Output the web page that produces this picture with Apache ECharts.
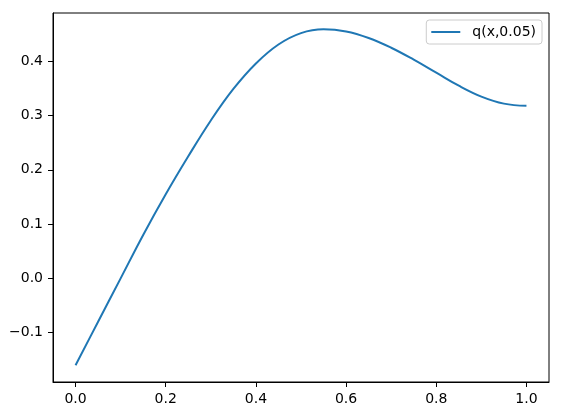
<!DOCTYPE html>
<html>
<head>
<meta charset="utf-8">
<script src="https://cdn.jsdelivr.net/npm/echarts@6/dist/echarts.min.js"></script>
<style>
  html, body { margin: 0; padding: 0; background: #fff; }
  #chart { width: 562px; height: 416px; }
</style>
</head>
<body>
<div id="chart"></div>
<script>
// values
const xValues = [0, 0.05, 0.1, 0.15, 0.2, 0.25, 0.3, 0.35, 0.4, 0.45, 0.5,
  0.55, 0.6, 0.65, 0.7, 0.75, 0.8, 0.85, 0.9, 0.95, 1.0];
const qValues = [-0.160, -0.080, 0.000, 0.080, 0.155, 0.225, 0.291, 0.349, 0.396, 0.431, 0.452,
  0.459, 0.455, 0.443, 0.425, 0.403, 0.379, 0.355, 0.335, 0.322, 0.318];
const xTicks = [0, 0.2, 0.4, 0.6, 0.8, 1.0];
const yTicks = [-0.1, 0, 0.1, 0.2, 0.3, 0.4];
const seriesName = 'q(x,0.05)';

const chart = echarts.init(document.getElementById('chart'), null, { renderer: 'canvas' });

const font = 'DejaVu Sans';

const option = {
  animation: false,
  backgroundColor: '#fff',
  textStyle: { fontFamily: font },
  grid: {
    left: 53, top: 13, right: 13, bottom: 34,
    show: true,
    borderColor: '#000',
    borderWidth: 1
  },
  legend: {
    right: 20,
    top: 20,
    padding: [5, 6, 5, 5],
    borderColor: '#cccccc',
    borderWidth: 1,
    borderRadius: 3,
    backgroundColor: 'rgba(255,255,255,0.8)',
    icon: 'rect',
    itemWidth: 29,
    itemHeight: 2,
    textStyle: { fontFamily: font, fontSize: 14, color: '#000', padding: [0, 0, 0, 7], lineHeight: 14 },
    data: [seriesName]
  },
  xAxis: {
    type: 'value',
    min: -0.05,
    max: 1.05,
    splitLine: { show: false },
    axisLine: { show: true, onZero: false, lineStyle: { color: '#000', width: 1 } },
    axisTick: { show: true, inside: false, length: 5, customValues: xTicks, lineStyle: { color: '#000' } },
    axisLabel: {
      customValues: xTicks,
      margin: 10,
      color: '#000',
      fontFamily: font,
      fontSize: 14,
      formatter: v => v.toFixed(1)
    }
  },
  yAxis: {
    type: 'value',
    min: -0.191,
    max: 0.489,
    splitLine: { show: false },
    axisLine: { show: true, onZero: false, lineStyle: { color: '#000', width: 1 } },
    axisTick: { show: true, inside: false, length: 5, customValues: yTicks, lineStyle: { color: '#000' } },
    axisLabel: {
      customValues: yTicks,
      margin: 10,
      color: '#000',
      fontFamily: font,
      fontSize: 14,
      formatter: v => (v < 0 ? '\u2212' : '') + Math.abs(v).toFixed(1)
    }
  },
  series: [
    {
      name: seriesName,
      type: 'line',
      showSymbol: false,
      symbol: 'none',
      smooth: 0.4,
      data: xValues.map((x, i) => [x, qValues[i]]),
      lineStyle: { color: '#1f77b4', width: 2 },
      itemStyle: { color: '#1f77b4' }
    }
  ]
};

chart.setOption(option);
</script>
</body>
</html>
